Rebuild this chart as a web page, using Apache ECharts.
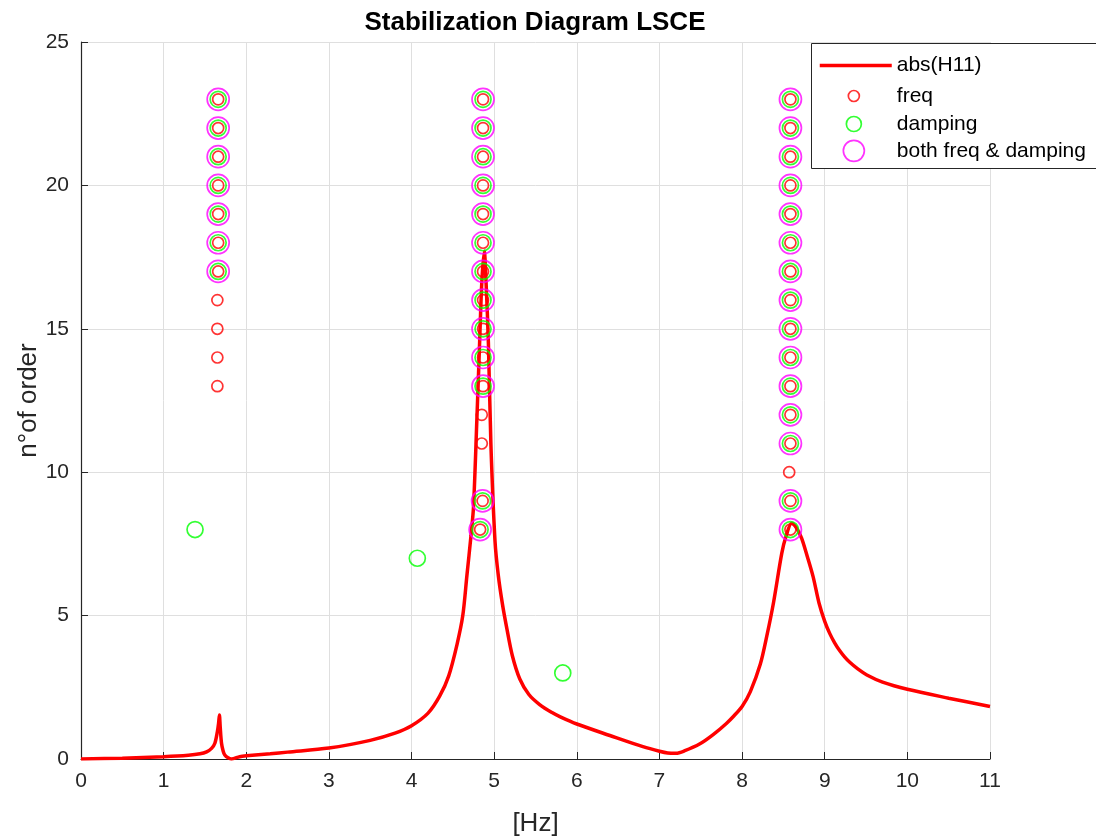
<!DOCTYPE html>
<html>
<head>
<meta charset="utf-8">
<title>Stabilization Diagram LSCE</title>
<script src="https://cdn.jsdelivr.net/npm/echarts@6/dist/echarts.min.js"></script>
<style>
  html, body { margin: 0; padding: 0; background: #fff; }
  #chart { width: 1096px; height: 837px; }
</style>
</head>
<body>
<div id="chart"></div>
<script>
// FRF magnitude abs(H11)
const curveHz = [0, 0.5, 1.0, 1.3, 1.44, 1.52, 1.58, 1.62, 1.65, 1.665, 1.675, 1.685, 1.70, 1.72, 1.74, 1.78, 1.82,
  1.92, 2.0, 2.29, 2.5, 3.0, 3.5, 3.8, 4.0, 4.2, 4.34, 4.45, 4.55, 4.62, 4.67, 4.72, 4.75, 4.79, 4.82, 4.85, 4.88,
  4.905, 4.93, 4.96, 5.01, 5.05, 5.10, 5.15, 5.22, 5.31, 5.42, 5.55, 5.7, 5.8, 6.0, 6.4, 6.8, 7.0, 7.1, 7.2, 7.3,
  7.49, 7.65, 7.81, 7.9, 8.0, 8.1, 8.22, 8.3, 8.38, 8.48, 8.53, 8.6, 8.66, 8.72, 8.79, 8.86, 8.93, 9.0, 9.06,
  9.12, 9.18, 9.24, 9.3, 9.4, 9.51, 9.7, 10.0, 10.5, 11.0]
const curveAbs = [0, 0.03, 0.08, 0.13, 0.18, 0.25, 0.37, 0.55, 0.95, 1.25, 1.53, 1.1, 0.56, 0.28, 0.14, 0.04, 0.0,
  0.08, 0.11, 0.18, 0.24, 0.38, 0.65, 0.9, 1.16, 1.6, 2.19, 2.9, 3.99, 5.0, 6.4, 7.8, 8.8, 11.8, 14.2, 16.6, 17.7,
  16.4, 14.5, 11.0, 7.6, 6.4, 5.4, 4.6, 3.6, 2.79, 2.25, 1.9, 1.62, 1.47, 1.22, 0.82, 0.43, 0.27, 0.21, 0.2, 0.28,
  0.53, 0.85, 1.24, 1.5, 1.83, 2.35, 3.3, 4.3, 5.45, 7.17, 7.75, 8.22, 8.05, 7.7, 7.05, 6.35, 5.45, 4.8, 4.38,
  4.05, 3.78, 3.56, 3.38, 3.14, 2.93, 2.68, 2.43, 2.12, 1.83]

// stable in frequency
const freqHz = [
  1.65, 1.65, 1.65, 1.65, 1.66, 1.66, 1.66, 1.66, 1.66, 1.66, 1.66,
  4.83, 4.86, 4.85, 4.85, 4.865, 4.865, 4.865, 4.865, 4.865, 4.865, 4.865, 4.865, 4.865, 4.865, 4.865,
  8.585, 8.585, 8.57, 8.585, 8.585, 8.585, 8.585, 8.585, 8.585, 8.585, 8.585, 8.585, 8.585, 8.585, 8.585, 8.585
]
const freqOrder = [
  13, 14, 15, 16, 17, 18, 19, 20, 21, 22, 23,
  8, 9, 11, 12, 13, 14, 15, 16, 17, 18, 19, 20, 21, 22, 23,
  8, 9, 10, 11, 12, 13, 14, 15, 16, 17, 18, 19, 20, 21, 22, 23
]

// stable in damping
const dampHz = [
  1.38, 1.66, 1.66, 1.66, 1.66, 1.66, 1.66, 1.66,
  4.07, 5.83, 4.83, 4.86, 4.865, 4.865, 4.865, 4.865, 4.865, 4.865, 4.865, 4.865, 4.865, 4.865, 4.865,
  8.585, 8.585, 8.585, 8.585, 8.585, 8.585, 8.585, 8.585, 8.585, 8.585, 8.585, 8.585, 8.585, 8.585, 8.585
]
const dampOrder = [
  8, 17, 18, 19, 20, 21, 22, 23,
  7, 3, 8, 9, 13, 14, 15, 16, 17, 18, 19, 20, 21, 22, 23,
  8, 9, 11, 12, 13, 14, 15, 16, 17, 18, 19, 20, 21, 22, 23
]

// stable in both
const bothHz = [
  1.66, 1.66, 1.66, 1.66, 1.66, 1.66, 1.66,
  4.83, 4.86, 4.865, 4.865, 4.865, 4.865, 4.865, 4.865, 4.865, 4.865, 4.865, 4.865, 4.865,
  8.585, 8.585, 8.585, 8.585, 8.585, 8.585, 8.585, 8.585, 8.585, 8.585, 8.585, 8.585, 8.585, 8.585, 8.585
]
const bothOrder = [
  17, 18, 19, 20, 21, 22, 23,
  8, 9, 13, 14, 15, 16, 17, 18, 19, 20, 21, 22, 23,
  8, 9, 11, 12, 13, 14, 15, 16, 17, 18, 19, 20, 21, 22, 23
]

const pairs = (xs, ys) => xs.map((x, i) => [x, ys[i]])

const FONT = "'Liberation Sans', Arial, sans-serif"
const AXIS_COLOR = "#262626"

const chart = echarts.init(document.getElementById("chart"))

// one legend per entry so each circle keeps its own size
const circleLegend = (name, color, size, rowY) => ({
  data: [name],
  left: 853 - size / 2,
  top: rowY - size / 2,
  orient: "vertical",
  itemWidth: size,
  itemHeight: size,
  padding: 0,
  selectedMode: false,
  itemStyle: { color: "transparent", borderColor: color, borderWidth: 1.7 },
  textStyle: {
    fontFamily: FONT, fontSize: 21, color: "#000",
    padding: [0, 0, 0, 38 - size / 2]
  }
})

const option = {
  animation: false,
  backgroundColor: "#fff",
  title: {
    text: "Stabilization Diagram LSCE",
    left: 535,
    top: 10,
    textAlign: "center",
    padding: 0,
    textStyle: { fontFamily: FONT, fontSize: 26, fontWeight: "bold", color: "#000" }
  },
  grid: { left: 81, right: 106, top: 42, bottom: 78, outerBoundsMode: "none" },
  xAxis: {
    type: "value",
    min: 0,
    max: 11,
    interval: 1,
    name: "[Hz]",
    nameLocation: "middle",
    nameGap: 52,
    nameTextStyle: { fontFamily: FONT, fontSize: 26, color: AXIS_COLOR },
    axisLine: { show: true, onZero: false, lineStyle: { color: AXIS_COLOR, width: 1.2 } },
    axisTick: { show: true, inside: true, length: 7, lineStyle: { color: AXIS_COLOR } },
    axisLabel: { fontFamily: FONT, fontSize: 21, color: AXIS_COLOR, margin: 12 },
    splitLine: { show: true, lineStyle: { color: "#dfdfdf", width: 1 } }
  },
  yAxis: {
    type: "value",
    min: 0,
    max: 25,
    interval: 5,
    name: "n°of order",
    nameLocation: "middle",
    nameGap: 39,
    nameMoveOverlap: false,
    nameTextStyle: { fontFamily: FONT, fontSize: 26, color: AXIS_COLOR },
    axisLine: { show: true, onZero: false, lineStyle: { color: AXIS_COLOR, width: 1.2 } },
    axisTick: { show: true, inside: true, length: 7, lineStyle: { color: AXIS_COLOR } },
    axisLabel: { fontFamily: FONT, fontSize: 21, color: AXIS_COLOR, margin: 12 },
    splitLine: { show: true, lineStyle: { color: "#dfdfdf", width: 1 } }
  },
  legend: [
    {
      data: ["abs(H11)"],
      left: 818,
      top: 55,
      orient: "vertical",
      itemWidth: 72,
      itemHeight: 14,
      padding: 0,
      selectedMode: false,
      itemStyle: { color: "transparent", borderColor: "transparent", borderWidth: 0, opacity: 0 },
      lineStyle: { color: "#ff0000", width: 3.5 },
      textStyle: { fontFamily: FONT, fontSize: 21, color: "#000" }
    },
    circleLegend("freq", "#ff0000", 11, 91),
    circleLegend("damping", "#00ff00", 15, 121),
    circleLegend("both freq & damping", "#ff00ff", 21, 150)
  ],
  graphic: [
    {
      type: "rect",
      left: 811,
      top: 43,
      z: 3,
      shape: { width: 300, height: 125 },
      style: { fill: "#fff", stroke: AXIS_COLOR, lineWidth: 1 }
    }
  ],
  series: [
    {
      name: "abs(H11)",
      type: "line",
      data: pairs(curveHz, curveAbs),
      showSymbol: false,
      symbol: "none",
      smooth: 0.3,
      lineStyle: { color: "#ff0000", width: 3.5 },
      itemStyle: { color: "#ff0000" },
      z: 2
    },
    {
      name: "freq",
      type: "scatter",
      data: pairs(freqHz, freqOrder),
      symbol: "circle",
      symbolSize: 11,
      itemStyle: { color: "transparent", borderColor: "#ff0000", borderWidth: 1.7 },
      z: 5
    },
    {
      name: "damping",
      type: "scatter",
      data: pairs(dampHz, dampOrder),
      symbol: "circle",
      symbolSize: 16,
      itemStyle: { color: "transparent", borderColor: "#00ff00", borderWidth: 1.7 },
      z: 4
    },
    {
      name: "both freq & damping",
      type: "scatter",
      data: pairs(bothHz, bothOrder),
      symbol: "circle",
      symbolSize: 22,
      itemStyle: { color: "transparent", borderColor: "#ff00ff", borderWidth: 1.7 },
      z: 3
    }
  ]
}

chart.setOption(option)

window.addEventListener("resize", () => {
  chart.resize()
})
</script>
</body>
</html>
